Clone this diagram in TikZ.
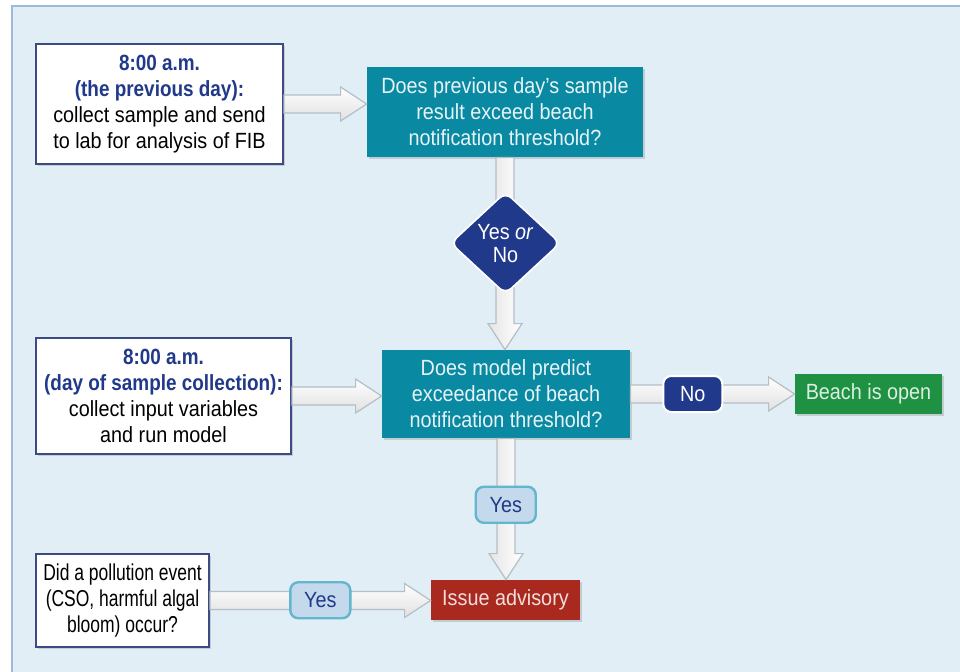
\documentclass[tikz,border=0pt]{standalone}
\usepackage{fontspec}
\setmainfont{Liberation Sans}[FakeStretch=0.9,BoldFeatures={FakeStretch=0.86}]
\newfontfamily\narrowfont{Liberation Sans}[FakeStretch=0.76]
\usetikzlibrary{calc,shapes.geometric,shadows}

\definecolor{panel}{HTML}{E1EEF5}
\definecolor{panelline}{HTML}{9DB9DD}
\definecolor{qteal}{HTML}{0A8AA2}
\definecolor{navy}{HTML}{21398A}
\definecolor{boxline}{HTML}{3C4A86}
\definecolor{okgreen}{HTML}{1E9143}
\definecolor{alertred}{HTML}{A9291F}
\definecolor{yesfill}{HTML}{C5D9EC}
\definecolor{yesline}{HTML}{62B6CE}
\definecolor{arrowline}{HTML}{B4BEC6}

\newcommand{\fatright}[2]{%
  \draw[fat,top color=white,bottom color=black!12] let \p1=(#1), \p2=(#2) in
    (\x1,\y1+4.5pt) -- (\x2-13pt,\y1+4.5pt) -- (\x2-13pt,\y1+8.5pt) -- (\x2,\y1)
    -- (\x2-13pt,\y1-8.5pt) -- (\x2-13pt,\y1-4.5pt) -- (\x1,\y1-4.5pt) -- cycle;}
\newcommand{\fatdown}[2]{%
  \draw[fat,left color=black!10,right color=white] let \p1=(#1), \p2=(#2) in
    (\x1-4.5pt,\y1) -- (\x1-4.5pt,\y2+13pt) -- (\x1-8.5pt,\y2+13pt) -- (\x1,\y2)
    -- (\x1+8.5pt,\y2+13pt) -- (\x1+4.5pt,\y2+13pt) -- (\x1+4.5pt,\y1) -- cycle;}

\begin{document}
\begin{tikzpicture}[x=0.5pt,y=-0.5pt,
  txt/.style={font=\fontsize{11}{13}\selectfont,align=center,inner sep=0pt},
  shade/.style={drop shadow={shadow xshift=1.2pt,shadow yshift=-1.2pt,opacity=.3}},
  box/.style={txt,shade,draw=boxline,line width=1pt,fill=white},
  ask/.style={txt,shade,fill=qteal,text=white!90!qteal},
  result/.style={txt,shade,text=white!85!#1,fill=#1},
  decide/.style={diamond,txt,font=\fontsize{11}{11.5}\selectfont,fill=navy,text=white,
    draw=white,line width=.8pt,rounded corners=4pt,minimum width=55pt,minimum height=51pt},
  nobadge/.style={txt,fill=navy,text=white,draw=white,line width=1pt,rounded corners=4pt,
    minimum width=29.5pt,minimum height=18pt},
  yesbadge/.style={txt,fill=yesfill,text=navy,draw=yesline,line width=1.2pt,rounded corners=4pt,
    minimum width=30pt,minimum height=18pt},
  fat/.style={draw=arrowline,line width=.6pt,line join=miter}]
  \useasboundingbox (0,0) rectangle (960,671);
  \fill[panel,draw=panelline,line width=.7pt] (12,6) rectangle (980,690);

  \node[box,minimum width=123.5pt,minimum height=60pt] (prev) at (159.5,104)
    {\textcolor{navy}{\textbf{8:00 a.m.}}\\\textcolor{navy}{\textbf{(the previous day):}}\\collect sample and send\\to lab for analysis of FIB};
  \node[ask,minimum width=138pt,minimum height=45pt] (q1) at (505,112)
    {Does previous day’s sample\\result exceed beach\\notification threshold?};
  \node[box,minimum width=127.5pt,minimum height=58pt] (model) at (163.5,396)
    {\textcolor{navy}{\textbf{8:00 a.m.}}\\\textcolor{navy}{\textbf{(day of sample collection):}}\\collect input variables\\and run model};
  \node[ask,minimum width=124pt,minimum height=44pt] (q2) at (506,394)
    {Does model predict\\exceedance of beach\\notification threshold?};
  \node[result=okgreen,minimum width=73.5pt,minimum height=20pt] (open) at (868.5,394) {Beach is open};
  \node[box,font=\narrowfont\fontsize{11.5}{13}\selectfont,minimum width=86.5pt,minimum height=46.5pt] (event) at (122.5,600.5)
    {Did a pollution event\\(CSO, harmful algal\\bloom) occur?};
  \node[result=alertred,minimum width=74.5pt,minimum height=20pt] (advisory) at (505.5,600) {Issue advisory};

  \fatright{prev.east}{q1.west}
  \fatright{model.east}{q2.west}
  \fatright{q2.east}{open.west}
  \fatright{event.east}{advisory.west}
  \fatdown{q1.south}{q2.north}
  \fatdown{q2.south}{advisory.north}

  \node[decide] (yn) at ($(q1.south)!.446!(q2.north)$) {Yes \textit{or}\\No};
  \node[nobadge] (no) at ($(q2.east)!.38!(open.west)$) {No};
  \node[yesbadge] (yes1) at ($(q2.south)!.47!(advisory.north)$) {Yes};
  \node[yesbadge] (yes2) at ($(event.east)!.5!(advisory.west)$) {Yes};
\end{tikzpicture}
\end{document}
